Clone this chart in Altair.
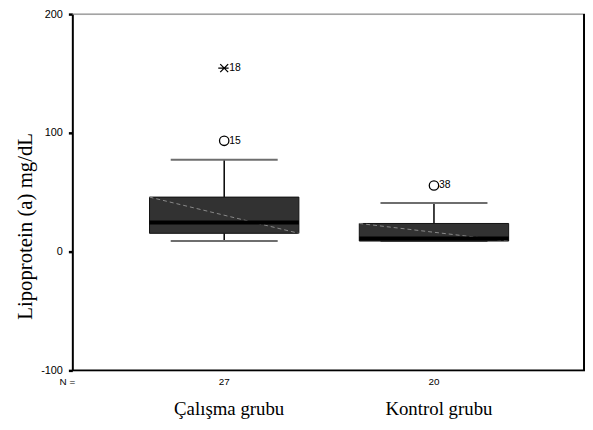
import altair as alt
import pandas as pd

# ---- data ----
groups = ["Çalışma grubu", "Kontrol grubu"]
n_labels = ["27", "20"]
positions = [1, 2]
q1 = [15.4, 8.9]
median = [24.6, 11.0]
q3 = [45.9, 23.7]
whisker_lo = [8.9, 8.9]
whisker_hi = [77.4, 40.9]

outlier_pos = [1, 2]
outlier_val = [93.3, 55.7]
outlier_id = ["15", "38"]

extreme_pos = [1]
extreme_val = [154.5]
extreme_id = ["18"]

y_ticks = [-100, 0, 100, 200]

boxes = pd.DataFrame({
    "group": groups, "n": n_labels, "pos": positions,
    "q1": q1, "median": median, "q3": q3,
    "lo": whisker_lo, "hi": whisker_hi,
})
outs = pd.DataFrame({"pos": outlier_pos, "val": outlier_val, "id": outlier_id})
exts = pd.DataFrame({"pos": extreme_pos, "val": extreme_val, "id": extreme_id})

W, H = 518, 360
xscale = alt.Scale(domain=[0.276, 2.72], nice=False, zero=False)
yscale = alt.Scale(domain=[-100, 200], nice=False, zero=False)
BOX_HW = 0.356
CAP_HW = 0.255

yaxis = alt.Axis(
    values=y_ticks, grid=False, domainColor="black", domainWidth=2,
    tickColor="black", tickSize=4, tickWidth=2.5, labelFont="Liberation Sans",
    labelFontSize=11, labelColor="black", labelPadding=6,
    labelExpr="'' + datum.value",
    title="Lipoprotein (a) mg/dL", titleFont="Liberation Serif",
    titleFontSize=21, titleFontWeight="normal", titleColor="black",
    titleAngle=-90, titleX=-47, titleY=214, titleAlign="center",
    titleBaseline="middle",
)
xaxis = None

base = alt.Chart(boxes).transform_calculate(
    bl=f"datum.pos - {BOX_HW}", br=f"datum.pos + {BOX_HW}",
    cl=f"datum.pos - {CAP_HW}", cr=f"datum.pos + {CAP_HW}",
)

X = lambda f: alt.X(f"{f}:Q", scale=xscale, axis=xaxis)

whisk_up = base.mark_rule(color="black", strokeWidth=1.5).encode(
    x=X("pos"), y=alt.Y("q3:Q", scale=yscale, axis=yaxis), y2="hi:Q")
whisk_dn = base.mark_rule(color="black", strokeWidth=1.5).encode(
    x=X("pos"), y=alt.Y("lo:Q", scale=yscale), y2="q1:Q")
cap_hi = base.mark_rule(color="#6e6e6e", strokeWidth=2).encode(
    x=X("cl"), x2="cr:Q", y=alt.Y("hi:Q", scale=yscale))
cap_lo = base.mark_rule(color="#6e6e6e", strokeWidth=2).encode(
    x=X("cl"), x2="cr:Q", y=alt.Y("lo:Q", scale=yscale))
box = base.mark_rect(fill="#323232", stroke="#111111", strokeWidth=1).encode(
    x=X("bl"), x2="br:Q", y=alt.Y("q1:Q", scale=yscale), y2="q3:Q")
diag = base.mark_rule(color="#8a8a8a", strokeWidth=1, strokeDash=[4, 3]).encode(
    x=X("bl"), x2="br:Q", y=alt.Y("q3:Q", scale=yscale), y2="q1:Q")
med = base.mark_rule(color="black", strokeWidth=4).encode(
    x=X("bl"), x2="br:Q", y=alt.Y("median:Q", scale=yscale))

out_pts = alt.Chart(outs).mark_point(
    shape="circle", filled=False, color="black", strokeWidth=1.3, size=90, opacity=1
).encode(x=X("pos"), y=alt.Y("val:Q", scale=yscale))
out_txt = alt.Chart(outs).mark_text(
    align="left", baseline="middle", dx=5, font="Liberation Sans", fontSize=10.5, color="black"
).encode(x=X("pos"), y=alt.Y("val:Q", scale=yscale), text="id:N")

ext_pts = alt.Chart(exts).mark_point(
    shape="M-0.8,-0.8L0.8,0.8M-0.8,0.8L0.8,-0.8M-1.2,0L0.9,0", filled=False, color="black",
    strokeWidth=1.3, size=100, opacity=1
).encode(x=X("pos"), y=alt.Y("val:Q", scale=yscale))
ext_txt = alt.Chart(exts).mark_text(
    align="left", baseline="middle", dx=5, font="Liberation Sans", fontSize=10.5, color="black"
).encode(x=X("pos"), y=alt.Y("val:Q", scale=yscale), text="id:N")

n_txt = base.mark_text(
    align="center", baseline="middle", font="Liberation Sans", fontSize=10, color="black"
).encode(x=X("pos"), y=alt.value(H + 12), text="n:N")
n_eq = alt.Chart(pd.DataFrame({"t": ["N ="]})).mark_text(
    align="center", baseline="middle", font="Liberation Sans", fontSize=10, color="black"
).encode(x=alt.value(-5), y=alt.value(H + 12), text="t:N")
grp_txt = base.mark_text(
    align="center", baseline="alphabetic", dx=5, font="Liberation Serif", fontSize=19, color="black"
).encode(x=X("pos"), y=alt.value(H + 45), text="group:N")

frame_top = alt.Chart(pd.DataFrame({"a": [0]})).mark_rule(color="#777777", strokeWidth=1).encode(
    x=alt.value(0), x2=alt.value(W), y=alt.value(0))
frame_right = alt.Chart(pd.DataFrame({"a": [0]})).mark_rule(color="black", strokeWidth=2).encode(
    x=alt.value(W - 1), y=alt.value(0), y2=alt.value(H))
frame_bottom = alt.Chart(pd.DataFrame({"a": [0]})).mark_rule(color="black", strokeWidth=2).encode(
    x=alt.value(0), x2=alt.value(W), y=alt.value(H))

chart = alt.layer(
    whisk_up, whisk_dn, cap_hi, cap_lo, box, diag, med,
    out_pts, out_txt, ext_pts, ext_txt, n_txt, n_eq, grp_txt,
    frame_top, frame_right, frame_bottom,
).properties(
    width=W, height=H,
    autosize=alt.AutoSizeParams(type="none"),
    padding={"left": 65, "top": 4, "right": 0, "bottom": 50},
).configure_view(stroke=None).configure(background="white")

chart.save("out.html", embed_options={"renderer": "svg", "actions": False})
